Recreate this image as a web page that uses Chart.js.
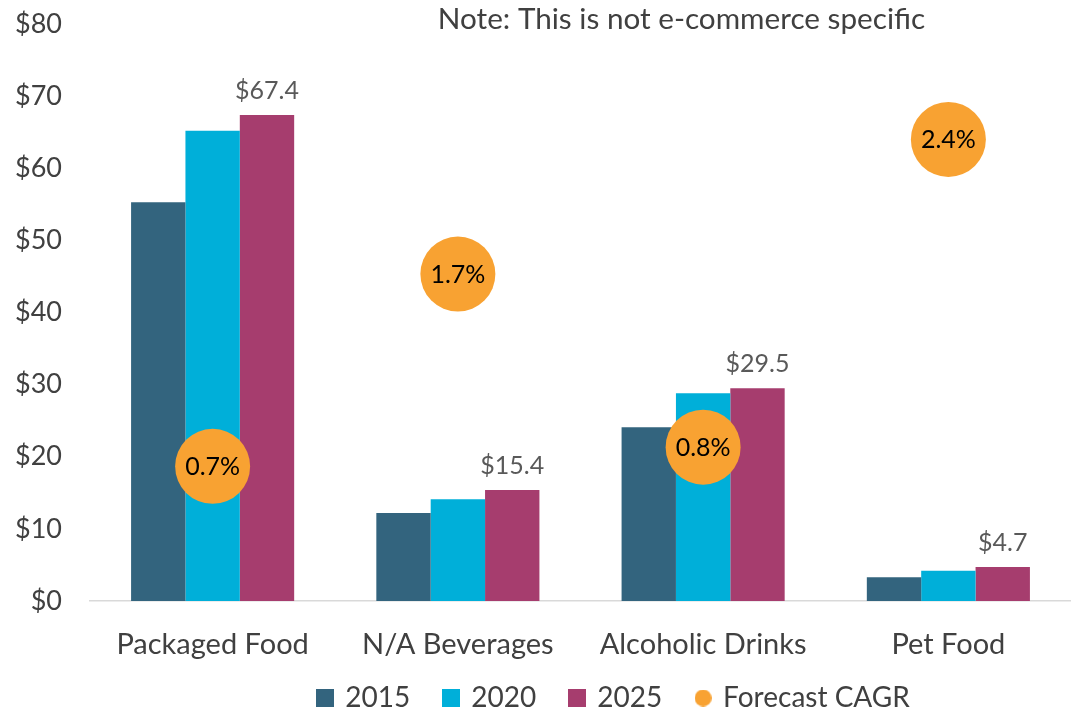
<!DOCTYPE html>
<html>
<head>
<meta charset="utf-8">
<script src="https://cdn.jsdelivr.net/npm/chart.js@4/dist/chart.umd.min.js"></script>
<style>
  html, body { margin: 0; padding: 0; background: #ffffff; }
  #wrap { width: 1071px; height: 712px; position: relative; }
</style>
</head>
<body>
<div id="wrap"><canvas id="chart"></canvas></div>
<script>
// Market size by category (US$ billions) and forecast CAGR (%)
const categories = ['Packaged Food', 'N/A Beverages', 'Alcoholic Drinks', 'Pet Food'];
const sales2015 = [55.3, 12.2, 24.1, 3.3];
const sales2020 = [65.2, 14.1, 28.8, 4.2];
const sales2025 = [67.4, 15.4, 29.5, 4.7];
const forecastCagr = [0.7, 1.7, 0.8, 2.4];
const yTicks = [0, 10, 20, 30, 40, 50, 60, 70, 80];
const noteText = 'Note: This is not e-commerce specific';

const FONT = 'Lato, "Open Sans", sans-serif';
const COLORS = { y2015: '#33647e', y2020: '#00afd9', y2025: '#a63d6e', cagr: '#f8a232' };

// Small swatches used as legend markers: squares for bars, a disc for the CAGR series
function swatch(color, shape, size) {
  const c = document.createElement('canvas');
  c.width = size; c.height = size;
  const g = c.getContext('2d');
  g.fillStyle = color;
  if (shape === 'circle') {
    g.beginPath(); g.arc(size / 2, size / 2, size / 2, 0, Math.PI * 2); g.fill();
  } else {
    g.fillRect(0, 0, size, size);
  }
  return c;
}

// Value labels above the 2025 bars, percentages inside the CAGR circles, and the note
const labelPlugin = {
  id: 'labels',
  afterLayout(chart) {
    // legend sits a little right of centre
    const lg = chart.legend;
    lg.left += 79; lg.right += 79;
    lg.top -= 14; lg.bottom -= 14;
  },
  afterDatasetsDraw(chart) {
    const ctx = chart.ctx;
    ctx.save();
    const barMeta = chart.getDatasetMeta(2);
    ctx.font = '25px ' + FONT;
    ctx.fillStyle = '#595959';
    ctx.textAlign = 'center';
    ctx.textBaseline = 'alphabetic';
    barMeta.data.forEach((el, i) => {
      ctx.fillText('$' + sales2025[i].toFixed(1), el.x, el.y - 16);
    });
    const dotMeta = chart.getDatasetMeta(3);
    ctx.font = '25px ' + FONT;
    ctx.fillStyle = '#000000';
    ctx.textBaseline = 'middle';
    dotMeta.data.forEach((el, i) => {
      ctx.fillText(forecastCagr[i].toFixed(1) + '%', el.x, el.y + 1);
    });
    ctx.font = '29.7px ' + FONT;
    ctx.fillStyle = '#404040';
    ctx.fillText(noteText, chart.chartArea.left + chart.chartArea.width * 0.603, 19);
    ctx.restore();
  }
};

new Chart(document.getElementById('chart'), {
  data: {
    labels: categories,
    datasets: [
      { type: 'bar', label: '2015', data: sales2015, backgroundColor: COLORS.y2015, order: 1 },
      { type: 'bar', label: '2020', data: sales2020, backgroundColor: COLORS.y2020, order: 1 },
      { type: 'bar', label: '2025', data: sales2025, backgroundColor: COLORS.y2025, order: 1 },
      { type: 'line', label: 'Forecast CAGR', data: forecastCagr, yAxisID: 'y2', showLine: false,
        pointRadius: 37.5, pointHoverRadius: 37.5, pointBackgroundColor: COLORS.cagr,
        pointBorderWidth: 0, borderColor: COLORS.cagr, backgroundColor: COLORS.cagr, order: 0 }
    ]
  },
  options: {
    responsive: true,
    maintainAspectRatio: false,
    animation: false,
    events: [],
    layout: { autoPadding: false, padding: { top: 24, right: 0, bottom: -24, left: 0 } },
    datasets: { bar: { categoryPercentage: 0.665, barPercentage: 1.0, borderWidth: 0 } },
    scales: {
      x: {
        grid: { display: false, drawTicks: false },
        border: { display: true, color: '#d9d9d9', width: 1.5 },
        ticks: { color: '#404040', font: { family: FONT, size: 29 }, padding: 26 },
        afterFit(scale) { scale.height = 62; scale.paddingLeft = 0; scale.paddingRight = 0; }
      },
      y: {
        min: 0, max: 80,
        afterBuildTicks(scale) { scale.ticks = yTicks.map(v => ({ value: v })); },
        grid: { display: false, drawTicks: false },
        border: { display: false },
        ticks: { color: '#404040', font: { family: FONT, size: 27 }, padding: 28,
                 callback: v => '$' + v },
        afterFit(scale) { scale.width = 90; scale.paddingTop = 0; scale.paddingBottom = 0; }
      },
      y2: { display: false, min: 0, max: 3, position: 'right' }
    },
    plugins: {
      legend: {
        position: 'bottom',
        labels: {
          color: '#404040',
          font: { family: FONT, size: 28 },
          usePointStyle: true,
          boxWidth: 12, boxHeight: 18,
          padding: 35,
          generateLabels(chart) {
            return chart.data.datasets.map((ds, i) => ({
              text: ds.label,
              fillStyle: ds.type === 'line' ? ds.pointBackgroundColor : ds.backgroundColor,
              strokeStyle: 'transparent',
              lineWidth: 0,
              pointStyle: ds.type === 'line'
                ? swatch(ds.pointBackgroundColor, 'circle', 17)
                : swatch(ds.backgroundColor, 'rect', 18),
              fontColor: '#404040',
              datasetIndex: i,
              hidden: false
            }));
          }
        }
      },
      tooltip: { enabled: false }
    }
  },
  plugins: [labelPlugin]
});
</script>
</body>
</html>
